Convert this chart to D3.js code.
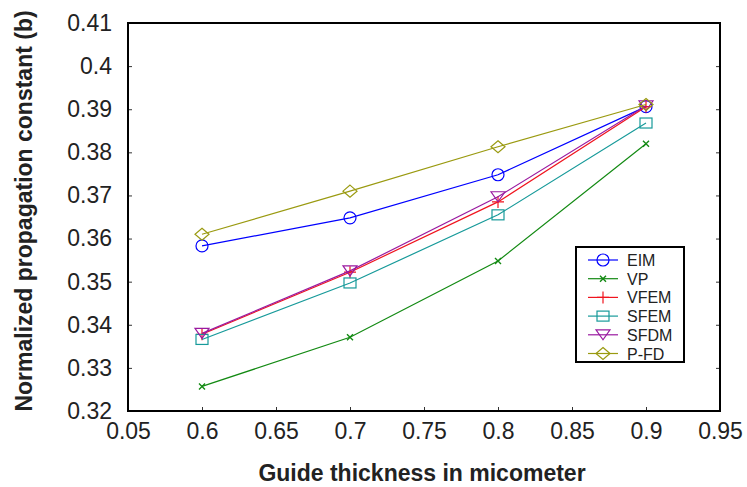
<!DOCTYPE html>
<html>
<head>
    <title>Propagation constant</title>
    <style>
        body { margin: 0; background: #fff; }
        text { font-family: "Liberation Sans", Arial, sans-serif; }
    </style>
    <script src="https://d3js.org/d3.v7.min.js"></script>
</head>
<body>
<script type="text/javascript">

    // data
    var thickness = [0.6, 0.7, 0.8, 0.9];
    var eim  = [0.3583, 0.3648, 0.3748, 0.3906];
    var vp   = [0.3257, 0.3371, 0.3548, 0.3820];
    var vfem = [0.3378, 0.3522, 0.3685, 0.3906];
    var sfem = [0.3366, 0.3497, 0.3655, 0.3868];
    var sfdm = [0.3380, 0.3525, 0.3697, 0.3908];
    var pfd  = [0.3610, 0.3710, 0.3813, 0.3911];

    var xTicks = [0.55, 0.6, 0.65, 0.7, 0.75, 0.8, 0.85, 0.9, 0.95];
    var xTickLabels = ['0.05', '0.6', '0.65', '0.7', '0.75', '0.8', '0.85', '0.9', '0.95'];
    var yTicks = [0.32, 0.33, 0.34, 0.35, 0.36, 0.37, 0.38, 0.39, 0.4, 0.41];
    var yTickLabels = ['0.32', '0.33', '0.34', '0.35', '0.36', '0.37', '0.38', '0.39', '0.4', '0.41'];

    var series = [
        {name: 'EIM',  values: eim,  color: '#0000ff', marker: 'circle'},
        {name: 'VP',   values: vp,   color: '#138a13', marker: 'x'},
        {name: 'VFEM', values: vfem, color: '#f0141e', marker: 'plus'},
        {name: 'SFEM', values: sfem, color: '#179a9a', marker: 'square'},
        {name: 'SFDM', values: sfdm, color: '#9a1aa0', marker: 'triangle'},
        {name: 'P-FD', values: pfd,  color: '#9a9a10', marker: 'diamond'}
    ];

    var W = 747, H = 487;
    var pLeft = 128, pRight = 720, pTop = 23, pBottom = 411;

    var svg = d3.select('body').append('svg')
        .attr('width', W)
        .attr('height', H);

    var x = d3.scaleLinear().domain([0.55, 0.95]).range([pLeft, pRight]);
    var y = d3.scaleLinear().domain([0.32, 0.41]).range([pBottom, pTop]);

    // axes, ticks inward
    var xAxis = d3.axisBottom(x).tickValues(xTicks)
        .tickSize(-4).tickPadding(12)
        .tickFormat(function(d, i) { return xTickLabels[i]; });
    var yAxis = d3.axisLeft(y).tickValues(yTicks)
        .tickSize(-4).tickPadding(16)
        .tickFormat(function(d, i) { return yTickLabels[i]; });
    var yAxisR = d3.axisRight(y).tickValues(yTicks)
        .tickSize(-4).tickFormat('');

    var gx = svg.append('g').attr('transform', 'translate(0,' + pBottom + ')').call(xAxis);
    var gy = svg.append('g').attr('transform', 'translate(' + pLeft + ',0)').call(yAxis);
    var gr = svg.append('g').attr('transform', 'translate(' + pRight + ',0)').call(yAxisR);

    [gx, gy, gr].forEach(function(g) {
        g.select('.domain').remove();
        g.selectAll('.tick line').attr('stroke', '#333').attr('stroke-width', 1);
        g.selectAll('.tick text')
            .style('font-family', '"Liberation Sans", Arial, sans-serif')
            .style('font-size', '23px')
            .attr('fill', '#222');
    });
    // hide end ticks that sit on the frame
    gx.selectAll('.tick line').filter(function(d) { return d === 0.55 || d === 0.95; }).remove();
    gy.selectAll('.tick line').filter(function(d) { return d === 0.32 || d === 0.41; }).remove();
    gr.selectAll('.tick line').filter(function(d) { return d === 0.32 || d === 0.41; }).remove();

    svg.append('rect')
        .attr('x', pLeft).attr('y', pTop)
        .attr('width', pRight - pLeft).attr('height', pBottom - pTop)
        .attr('fill', 'none').attr('stroke', '#000').attr('stroke-width', 2);

    // axis titles
    svg.append('text')
        .attr('x', 422).attr('y', 481)
        .attr('text-anchor', 'middle')
        .style('font-size', '23px').style('font-weight', 'bold')
        .attr('fill', '#222')
        .text('Guide thickness in micometer');

    svg.append('text')
        .attr('transform', 'translate(32,211) rotate(-90)')
        .attr('text-anchor', 'middle')
        .style('font-size', '23px').style('font-weight', 'bold')
        .attr('fill', '#222')
        .text('Normalized propagation constant (b)');

    function drawMarker(g, type, color) {
        if (type === 'circle') {
            g.append('circle').attr('r', 6).attr('fill', 'none').attr('stroke', color).attr('stroke-width', 1.2);
        } else if (type === 'x') {
            g.append('path').attr('d', 'M-3,-3L3,3M-3,3L3,-3').attr('stroke', color).attr('stroke-width', 1.4);
        } else if (type === 'plus') {
            g.append('path').attr('d', 'M-6,0L6,0M0,-6L0,6').attr('stroke', color).attr('stroke-width', 1.2);
        } else if (type === 'square') {
            g.append('rect').attr('x', -6).attr('y', -5).attr('width', 12).attr('height', 10)
                .attr('fill', 'none').attr('stroke', color).attr('stroke-width', 1.2);
        } else if (type === 'triangle') {
            g.append('path').attr('d', 'M-7,-5L7,-5L0,5Z').attr('fill', 'none').attr('stroke', color).attr('stroke-width', 1.2);
        } else if (type === 'diamond') {
            g.append('path').attr('d', 'M0,-6L7,0L0,6L-7,0Z').attr('fill', 'none').attr('stroke', color).attr('stroke-width', 1.2);
        }
    }

    var line = d3.line()
        .x(function(d, i) { return x(thickness[i]); })
        .y(function(d) { return y(d); });

    series.forEach(function(s) {
        svg.append('path')
            .datum(s.values)
            .attr('d', line)
            .attr('fill', 'none')
            .attr('stroke', s.color)
            .attr('stroke-width', 1.2);
        s.values.forEach(function(v, i) {
            var g = svg.append('g').attr('transform', 'translate(' + x(thickness[i]) + ',' + y(v) + ')');
            drawMarker(g, s.marker, s.color);
        });
    });

    // legend
    var lg = svg.append('g').attr('transform', 'translate(576,247)');
    lg.append('rect').attr('width', 108).attr('height', 115)
        .attr('fill', '#fff').attr('stroke', '#000').attr('stroke-width', 2);
    series.forEach(function(s, i) {
        var row = lg.append('g').attr('transform', 'translate(0,' + (13 + i * 18.7) + ')');
        row.append('line').attr('x1', 12).attr('x2', 42).attr('y1', 0).attr('y2', 0)
            .attr('stroke', s.color).attr('stroke-width', 1.2);
        var m = row.append('g').attr('transform', 'translate(27,0)');
        drawMarker(m, s.marker, s.color);
        row.append('text').attr('x', 51).attr('y', 6)
            .style('font-size', '16px').attr('fill', '#222')
            .text(s.name);
    });

</script>
</body>
</html>
